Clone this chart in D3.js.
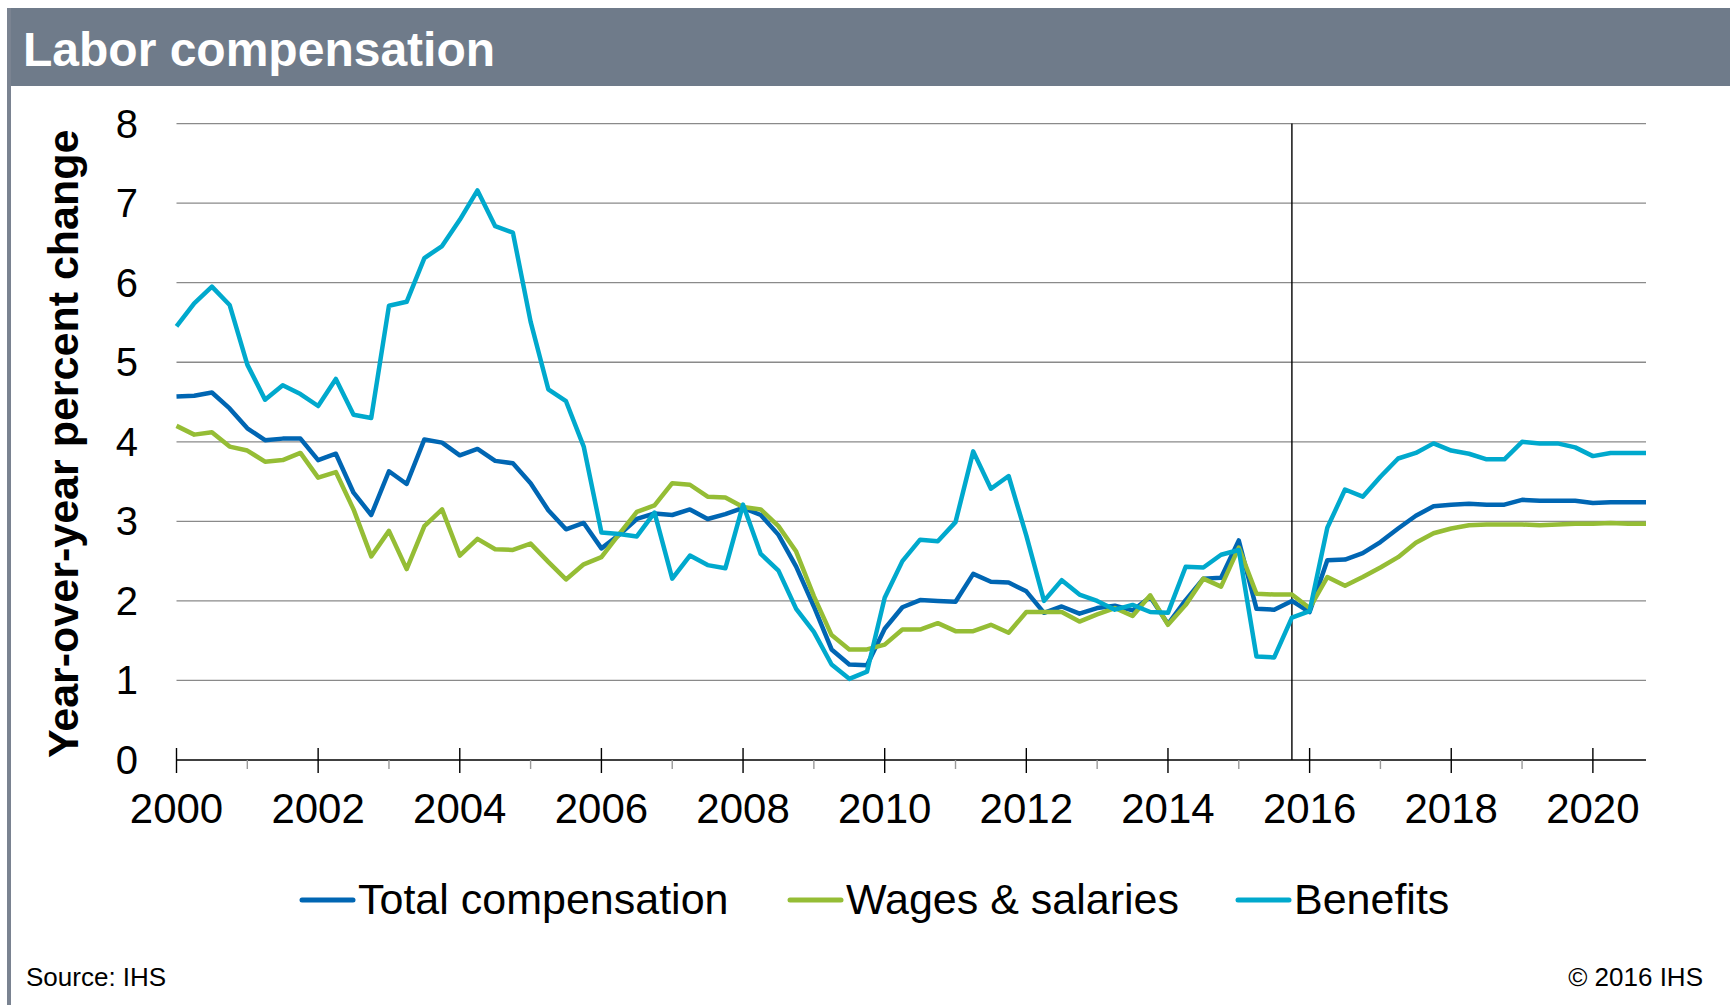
<!DOCTYPE html>
<html>
<head>
<meta charset="utf-8">
<script src="https://cdn.jsdelivr.net/npm/d3@7"></script>
<style>
  body { margin: 0; background: #fff; }
  svg { display: block; font-family: "Liberation Sans", Arial, sans-serif; }
</style>
</head>
<body>
<div id="chart"></div>
<script>
// Quarterly data, 2000Q1 - 2020Q4
const startYear = 2000
const forecastStart = 2015.75

const totalComp = [
  4.57, 4.58, 4.62, 4.42, 4.17, 4.02, 4.04, 4.04, 3.77, 3.85, 3.36, 3.08,
  3.63, 3.47, 4.03, 3.99, 3.83, 3.91, 3.76, 3.73, 3.48, 3.14, 2.90, 2.98,
  2.66, 2.83, 3.03, 3.10, 3.08, 3.15, 3.03, 3.09, 3.17, 3.08, 2.83, 2.43,
  1.93, 1.39, 1.20, 1.19, 1.65, 1.92, 2.01, 2.00, 1.99, 2.34, 2.24, 2.23,
  2.12, 1.85, 1.93, 1.84, 1.91, 1.94, 1.88, 2.05, 1.71, 2.01, 2.28, 2.29,
  2.76, 1.90, 1.89, 2.00, 1.86, 2.51, 2.52, 2.60, 2.74, 2.91, 3.07, 3.19,
  3.21, 3.22, 3.21, 3.21, 3.27, 3.26, 3.26, 3.26, 3.23, 3.24, 3.24, 3.24
]
const wages = [
  4.20, 4.09, 4.12, 3.94, 3.89, 3.75, 3.77, 3.86, 3.55, 3.62, 3.15, 2.56,
  2.88, 2.40, 2.94, 3.15, 2.57, 2.78, 2.65, 2.64, 2.72, 2.49, 2.27, 2.46,
  2.55, 2.84, 3.12, 3.20, 3.48, 3.46, 3.31, 3.30, 3.18, 3.15, 2.94, 2.62,
  2.06, 1.57, 1.39, 1.39, 1.45, 1.64, 1.64, 1.72, 1.62, 1.62, 1.70, 1.60,
  1.86, 1.86, 1.86, 1.74, 1.83, 1.91, 1.81, 2.07, 1.70, 1.95, 2.28, 2.18,
  2.67, 2.09, 2.08, 2.08, 1.91, 2.30, 2.19, 2.30, 2.42, 2.55, 2.73, 2.85,
  2.91, 2.95, 2.96, 2.96, 2.96, 2.95, 2.96, 2.97, 2.97, 2.98, 2.97, 2.97
]
const benefits = [
  5.45, 5.74, 5.95, 5.72, 4.97, 4.53, 4.71, 4.60, 4.45, 4.79, 4.34, 4.30,
  5.71, 5.76, 6.31, 6.46, 6.79, 7.16, 6.71, 6.63, 5.51, 4.66, 4.51, 3.94,
  2.86, 2.84, 2.81, 3.11, 2.28, 2.57, 2.45, 2.41, 3.21, 2.59, 2.38, 1.90,
  1.61, 1.20, 1.02, 1.11, 2.04, 2.50, 2.77, 2.75, 2.99, 3.88, 3.41, 3.57,
  2.82, 2.00, 2.26, 2.08, 2.00, 1.89, 1.95, 1.86, 1.85, 2.43, 2.42, 2.58,
  2.64, 1.30, 1.29, 1.79, 1.87, 2.92, 3.40, 3.31, 3.56, 3.79, 3.86, 3.98,
  3.89, 3.85, 3.78, 3.78, 4.00, 3.98, 3.98, 3.93, 3.82, 3.86, 3.86, 3.86
]

const yTicks = [0, 1, 2, 3, 4, 5, 6, 7, 8]
const xYears = d3.range(2000, 2021)

const series = [
  { name: 'Total compensation', values: totalComp, color: '#0066b3' },
  { name: 'Wages & salaries', values: wages, color: '#95bd35' },
  { name: 'Benefits', values: benefits, color: '#00a9cd' }
]

const dimensions = { width: 1730, height: 1005 }
const plot = { left: 176.5, right: 1646, top: 123.6, bottom: 760 }

const svg = d3.select('#chart')
  .append('svg')
  .attr('width', dimensions.width)
  .attr('height', dimensions.height)

// Title bar + left frame
svg.append('rect')
  .attr('x', 7).attr('y', 8)
  .attr('width', dimensions.width - 7).attr('height', 78)
  .attr('fill', '#6f7b8a')
svg.append('rect')
  .attr('x', 7).attr('y', 8)
  .attr('width', 4).attr('height', dimensions.height - 8)
  .attr('fill', '#7a8391')
svg.append('text')
  .attr('x', 23).attr('y', 66)
  .attr('fill', '#fff')
  .style('font-size', '48px')
  .style('font-weight', 'bold')
  .text('Labor compensation')

// Scales
const xScale = d3.scaleLinear()
  .domain([startYear, startYear + (totalComp.length - 1) / 4])
  .range([plot.left, plot.right])

const yScale = d3.scaleLinear()
  .domain([0, 8])
  .range([plot.bottom, plot.top])

// Gridlines
svg.append('g')
  .selectAll('line')
  .data(yTicks.filter(d => d > 0))
  .join('line')
  .attr('x1', plot.left).attr('x2', plot.right)
  .attr('y1', d => yScale(d)).attr('y2', d => yScale(d))
  .attr('stroke', '#8a8a8a')
  .attr('stroke-width', 1.3)

// Y labels
svg.append('g')
  .selectAll('text')
  .data(yTicks)
  .join('text')
  .attr('x', 138)
  .attr('y', d => yScale(d))
  .attr('dy', '0.35em')
  .attr('text-anchor', 'end')
  .style('font-size', '40px')
  .text(d => d)

svg.append('text')
  .attr('transform', `translate(78, ${(plot.top + plot.bottom) / 2 + 2}) rotate(-90)`)
  .attr('text-anchor', 'middle')
  .style('font-size', '43px')
  .style('font-weight', 'bold')
  .text('Year-over-year percent change')

// X axis
svg.append('line')
  .attr('x1', plot.left).attr('x2', plot.right)
  .attr('y1', plot.bottom).attr('y2', plot.bottom)
  .attr('stroke', '#000')
  .attr('stroke-width', 1.4)

svg.append('g')
  .selectAll('line')
  .data(xYears)
  .join('line')
  .attr('x1', d => xScale(d)).attr('x2', d => xScale(d))
  .attr('y1', d => d % 2 === 0 ? plot.bottom - 12 : plot.bottom)
  .attr('y2', d => d % 2 === 0 ? plot.bottom + 13 : plot.bottom + 9)
  .attr('stroke', d => d % 2 === 0 ? '#000' : '#999')
  .attr('stroke-width', 1.4)

svg.append('g')
  .selectAll('text')
  .data(xYears.filter(d => d % 2 === 0))
  .join('text')
  .attr('x', d => xScale(d))
  .attr('y', 823)
  .attr('text-anchor', 'middle')
  .style('font-size', '42px')
  .text(d => d)

// Forecast divider
svg.append('line')
  .attr('x1', xScale(forecastStart)).attr('x2', xScale(forecastStart))
  .attr('y1', plot.top).attr('y2', plot.bottom)
  .attr('stroke', '#000')
  .attr('stroke-width', 1.4)

// Lines
const line = d3.line()
  .x((d, i) => xScale(startYear + i / 4))
  .y(d => yScale(d))

svg.append('g')
  .selectAll('path')
  .data(series)
  .join('path')
  .attr('d', d => line(d.values))
  .attr('fill', 'none')
  .attr('stroke', d => d.color)
  .attr('stroke-width', 4.5)
  .attr('stroke-linejoin', 'round')

// Legend
const legendX = [300, 788, 1236]
const legend = svg.append('g')
  .selectAll('g')
  .data(series)
  .join('g')
  .attr('transform', (d, i) => `translate(${legendX[i]}, 900)`)

legend.append('line')
  .attr('x1', 2).attr('x2', 53)
  .attr('stroke', d => d.color)
  .attr('stroke-width', 5)
  .attr('stroke-linecap', 'round')

legend.append('text')
  .attr('x', 58).attr('y', 14)
  .style('font-size', '43px')
  .text(d => d.name)

// Footer
svg.append('text')
  .attr('x', 26).attr('y', 986)
  .style('font-size', '26px')
  .text('Source: IHS')

svg.append('text')
  .attr('x', 1703).attr('y', 986)
  .attr('text-anchor', 'end')
  .style('font-size', '26px')
  .text('© 2016 IHS')
</script>
</body>
</html>
